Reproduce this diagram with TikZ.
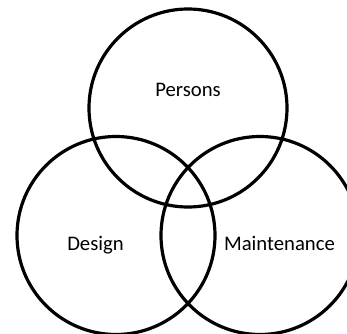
\documentclass[tikz,border=0pt]{standalone}
\usepackage{fontspec}
\setmainfont{Carlito}
\usepackage{tikz}
\newcommand{\vennfont}{\fontsize{20.7bp}{24bp}\selectfont}

\begin{document}
\begin{tikzpicture}[x=1bp,y=-1bp,
  set/.style={circle,draw=black,line width=3.2bp,minimum size=198bp,inner sep=0pt},
  lbl/.style={anchor=base,inner sep=0pt,font=\vennfont}]
\useasboundingbox (0,0) rectangle (347,334);
\clip (0,0) rectangle (347,334);
\node[set] (persons) at (188,108) {};
\node[set] (design) at (116,235.5) {};
\node[set] (maint) at (260,235.5) {};
\node[lbl] (tp) at (188,96) {Persons};
\node[lbl] (td) at (95.5,250) {Design};
\node[lbl] (tm) at (279.5,250) {Maintenance};
\end{tikzpicture}
\end{document}
